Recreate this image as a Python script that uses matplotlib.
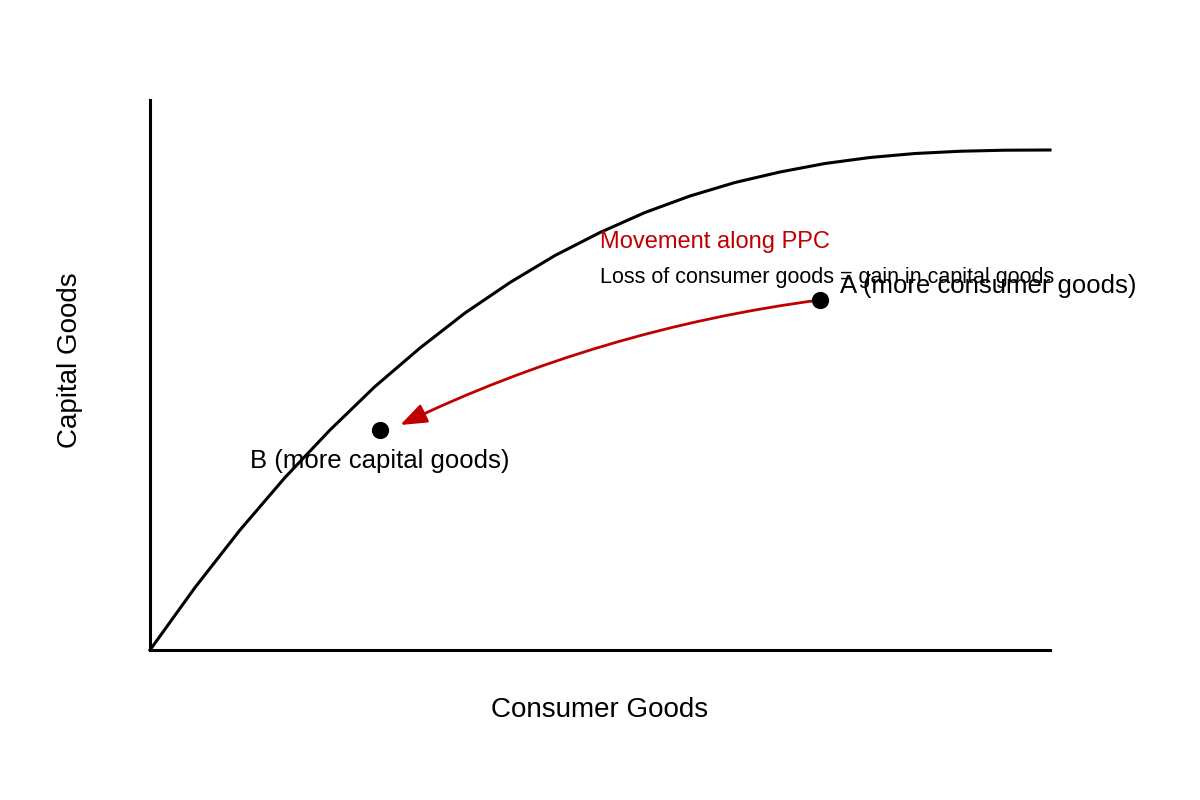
import matplotlib
matplotlib.use("Agg")
from matplotlib import pyplot as plt

plt.rcParams['font.family'] = ['Liberation Sans', 'DejaVu Sans']

# production possibility curve
consumer = [0, 5, 10, 15, 20, 25, 30, 35, 40, 45, 50, 55, 60, 65, 70, 75, 80, 85, 90, 95, 100]
capital = [0, 12.5, 24.0, 34.5, 44.0, 52.7, 60.4, 67.4, 73.5, 78.9, 83.5, 87.5, 90.8,
           93.5, 95.6, 97.3, 98.5, 99.3, 99.75, 99.96, 100]

point_a = (74.4, 70)
point_b = (25.6, 44)
arrow_end = (27.8, 45)

fig = plt.figure(figsize=(12, 8), dpi=100)
ax = fig.add_axes([0.125, 0.1875, 0.75, 0.6875])
ax.set_xlim(0, 100)
ax.set_ylim(0, 110)
for side in ["top", "right"]:
    ax.spines[side].set_visible(False)
for side in ["left", "bottom"]:
    ax.spines[side].set_linewidth(2.2)
ax.set_xticks([])
ax.set_yticks([])

ax.plot(consumer, capital, color="black", lw=2.2, clip_on=False, solid_joinstyle="round")
ax.scatter([point_a[0], point_b[0]], [point_a[1], point_b[1]], s=130, color="black", zorder=5)

ax.annotate("", xy=arrow_end, xytext=point_a,
            arrowprops=dict(arrowstyle="-|>,head_length=1.6,head_width=0.6", color="#c00000",
                            lw=2, connectionstyle="arc3,rad=0.08", shrinkA=0, shrinkB=0))

ax.text(50, 81.6, "Movement along PPC", color="#c00000", fontsize=17, va="center")
ax.text(50, 74.4, "Loss of consumer goods = gain in capital goods", fontsize=15.5, va="center")
ax.text(76.7, 72.8, "A (more consumer goods)", fontsize=18.5, va="center")
ax.text(11.1, 37.8, "B (more capital goods)", fontsize=18.5, va="center")

fig.text(0.5, 1 - 710 / 800, "Consumer Goods", fontsize=20, ha="center", va="center")
fig.text(70 / 1200, 1 - 360 / 800, "Capital Goods", fontsize=20, ha="center", va="center",
         rotation=90)

fig.savefig("out.png")
